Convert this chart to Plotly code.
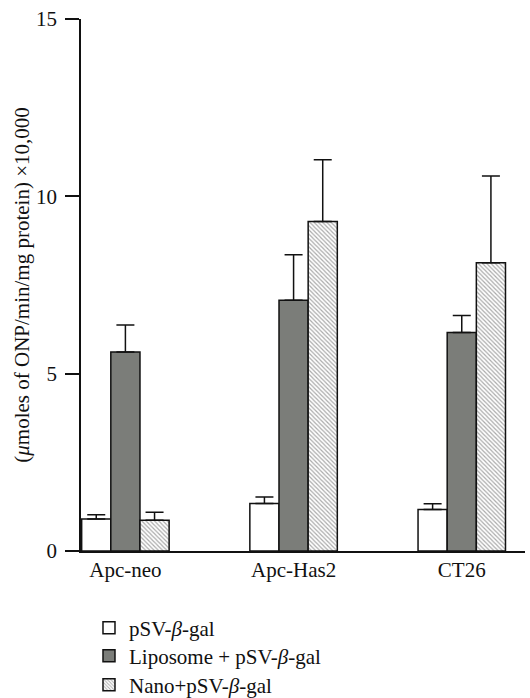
import plotly.graph_objects as go

categories = ["Apc-neo", "Apc-Has2", "CT26"]
series_names = ["pSV-<i>β</i>-gal", "Liposome + pSV-<i>β</i>-gal", "Nano+pSV-<i>β</i>-gal"]
pSV_vals = [0.90, 1.34, 1.17]
pSV_err = [0.12, 0.18, 0.16]
lipo_vals = [5.61, 7.07, 6.16]
lipo_err = [0.76, 1.28, 0.48]
nano_vals = [0.87, 9.29, 8.13]
nano_err = [0.22, 1.74, 2.44]
y_ticks = [0, 5, 10, 15]

FONT = "Liberation Serif, Times New Roman, serif"
fig = go.Figure()

def err(arr):
    return dict(type="data", array=arr, arrayminus=[0] * len(arr), symmetric=False,
                color="#111111", thickness=1.5, width=9)

fig.add_trace(go.Bar(x=categories, y=pSV_vals, name=series_names[0], legend="legend",
                     marker=dict(color="white", line=dict(color="#111111", width=1.5)),
                     error_y=err(pSV_err)))
fig.add_trace(go.Bar(x=categories, y=lipo_vals, name=series_names[1], legend="legend2",
                     marker=dict(color="#7b7d79", line=dict(color="#111111", width=1.5)),
                     error_y=err(lipo_err)))
fig.add_trace(go.Bar(x=categories, y=nano_vals, name=series_names[2], legend="legend3",
                     marker=dict(color="white", line=dict(color="#111111", width=1.5),
                                 pattern=dict(shape="\\", size=3, solidity=0.4,
                                              fgcolor="#555555", bgcolor="white")),
                     error_y=err(nano_err)))

def leg(yc):
    return dict(x=0.018, xanchor="left", y=yc, yanchor="middle", yref="container",
                font=dict(family=FONT, size=21, color="#111111"),
                bgcolor="rgba(0,0,0,0)", borderwidth=0)

fig.update_layout(
    width=530, height=698,
    margin=dict(l=81, r=5, t=19, b=147, autoexpand=False),
    paper_bgcolor="white", plot_bgcolor="white",
    barmode="group", bargap=0.48, bargroupgap=0,
    font=dict(family=FONT, size=21, color="#111111"),
    showlegend=True,
    legend=leg(0.1003), legend2=leg(0.0602), legend3=leg(0.0186),
    xaxis=dict(range=[-0.264, 2.376], showline=True, linecolor="#111111", linewidth=1.5,
               ticks="", showgrid=False, zeroline=False, ticklabelstandoff=-1,
               automargin=False, tickfont=dict(family=FONT, size=21)),
    yaxis=dict(range=[0, 15], tickvals=y_ticks, showline=True, linecolor="#111111",
               linewidth=1.5, ticks="outside", ticklen=14, tickwidth=1.5,
               tickcolor="#111111", showgrid=False, zeroline=False,
               ticklabelstandoff=4, automargin=False,
               tickfont=dict(family=FONT, size=21),
               title=dict(text="(<i>μ</i>moles of ONP/min/mg protein) ×10,000",
                          font=dict(family=FONT, size=21), standoff=1)),
)

fig.write_html("out.html", config={"displayModeBar": False},
               post_script="document.body.style.margin='0';document.body.style.padding='0';")
